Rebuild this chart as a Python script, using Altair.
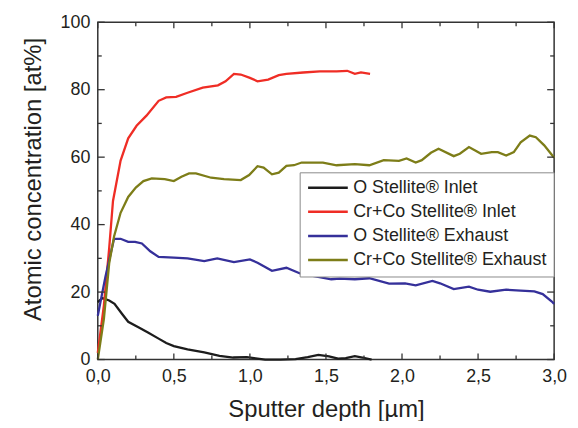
import altair as alt
import pandas as pd

# ---- data ----
series_names = ["O Stellite® Inlet", "Cr+Co Stellite® Inlet",
                "O Stellite® Exhaust", "Cr+Co Stellite® Exhaust"]
series_colors = ["#1c1c1c", "#ef2d25", "#35309a", "#7d7d18"]

o_inlet_x = [0, 0.03, 0.075, 0.11, 0.16, 0.2, 0.27, 0.33, 0.4, 0.45, 0.5, 0.59, 0.7, 0.8,
             0.89, 0.98, 1.05, 1.1, 1.2, 1.3, 1.38, 1.45, 1.52, 1.58, 1.63, 1.69, 1.74, 1.80]
o_inlet_y = [17, 18.2, 17.5, 16.5, 13.5, 11.2, 9.5, 8.0, 6.2, 4.9, 4.0, 3.0, 2.1, 1.1,
             0.6, 0.7, 0.3, 0.0, 0.0, 0.1, 0.7, 1.4, 0.9, 0.3, 0.4, 1.0, 0.6, 0.0]

crco_inlet_x = [0, 0.04, 0.075, 0.1, 0.15, 0.2, 0.255, 0.32, 0.4, 0.45, 0.515, 0.59, 0.69,
                0.79, 0.84, 0.895, 0.94, 1.0, 1.05, 1.12, 1.19, 1.24, 1.35, 1.46, 1.57, 1.64,
                1.69, 1.73, 1.79]
crco_inlet_y = [2, 16, 33, 47, 59, 65.6, 69.3, 72.3, 76.7, 77.7, 77.9, 79.1, 80.6,
                81.3, 82.5, 84.7, 84.5, 83.5, 82.5, 83, 84.3, 84.7, 85.1, 85.4, 85.4, 85.6,
                84.7, 85.1, 84.7]

o_exh_x = [0, 0.05, 0.107, 0.15, 0.2, 0.245, 0.29, 0.345, 0.4, 0.5, 0.59, 0.7, 0.785, 0.895,
           1.0, 1.05, 1.145, 1.24, 1.33, 1.44, 1.535, 1.59, 1.69, 1.785, 1.915, 2.02, 2.09,
           2.2, 2.25, 2.34, 2.44, 2.5, 2.58, 2.685, 2.78, 2.87, 2.925, 2.985, 3.0]
o_exh_y = [13, 24.5, 35.8, 35.8, 34.9, 34.9, 34.4, 32.1, 30.4, 30.2, 30, 29.2, 30, 28.9,
           29.7, 28.7, 26.3, 27.2, 25.5, 24.6, 23.8, 24, 23.8, 24.1, 22.5, 22.6, 22,
           23.3, 22.6, 20.9, 21.6, 20.7, 20.1, 20.7, 20.4, 20.2, 19.4, 17.2, 16.5]

crco_exh_x = [0, 0.04, 0.075, 0.107, 0.15, 0.2, 0.25, 0.3, 0.355, 0.44, 0.5, 0.55, 0.6, 0.645,
              0.745, 0.83, 0.94, 0.995, 1.05, 1.09, 1.145, 1.19, 1.24, 1.29, 1.34, 1.48, 1.57,
              1.69, 1.785, 1.88, 1.98, 2.03, 2.09, 2.13, 2.19, 2.24, 2.34, 2.38, 2.44, 2.52,
              2.59, 2.63, 2.685, 2.735, 2.78, 2.84, 2.88, 2.935, 3.0]
crco_exh_y = [0, 12, 28.5, 36.5, 43.5, 48.2, 51, 52.9, 53.7, 53.5, 52.9, 54.2, 55.2, 55.2,
              53.9, 53.5, 53.2, 54.7, 57.3, 56.9, 54.9, 55.4, 57.4, 57.6, 58.4, 58.4, 57.6,
              57.9, 57.6, 59.1, 58.9, 59.6, 58.4, 59.1, 61.3, 62.5, 60.3, 61, 63, 61,
              61.5, 61.5, 60.5, 61.5, 64.4, 66.4, 65.9, 63.5, 59.8]

x_major = [0, 0.5, 1.0, 1.5, 2.0, 2.5, 3.0]
x_minor = [0.25, 0.75, 1.25, 1.75, 2.25, 2.75]
y_major = [0, 20, 40, 60, 80, 100]
y_minor = [10, 30, 50, 70, 90]

# ---- build tables ----
rows = []
for name, xs, ys in zip(series_names,
                        [o_inlet_x, crco_inlet_x, o_exh_x, crco_exh_x],
                        [o_inlet_y, crco_inlet_y, o_exh_y, crco_exh_y]):
    for i, (a, b) in enumerate(zip(xs, ys)):
        rows.append({"depth": a, "conc": b, "series": name, "idx": i})
df = pd.DataFrame(rows)

W, H = 460, 340
FONT = "Liberation Sans"
TXT = "#231f20"
FRAME = "#333333"

xscale = alt.Scale(domain=[0, 3], nice=False, zero=False)
yscale = alt.Scale(domain=[0, 100], nice=False)

x_axis = alt.Axis(values=x_major, format=".1f",
                  labelExpr="replace(datum.label, '.', ',')",
                  tickSize=0, domain=False, grid=False, labelPadding=8,
                  labelFlush=False,
                  labelFontSize=18, labelFont=FONT, labelColor=TXT,
                  title="Sputter depth [µm]", titleFontSize=24,
                  titleFont=FONT, titleColor=TXT, titleFontWeight="normal",
                  titleY=50, titleBaseline="middle")
y_axis = alt.Axis(values=y_major, format="d",
                  tickSize=0, domain=False, grid=False, labelPadding=8,
                  labelFlush=False,
                  labelFontSize=18, labelFont=FONT, labelColor=TXT,
                  title="Atomic concentration [at%]", titleFontSize=24,
                  titleFont=FONT, titleColor=TXT, titleFontWeight="normal",
                  titleX=-65, titleY=158, titleAngle=-90,
                  titleBaseline="middle", titleAlign="center")

lines = alt.Chart(df).mark_line(strokeWidth=2.3).encode(
    x=alt.X("depth:Q", scale=xscale, axis=x_axis),
    y=alt.Y("conc:Q", scale=yscale, axis=y_axis),
    color=alt.Color("series:N",
                    scale=alt.Scale(domain=series_names, range=series_colors),
                    legend=alt.Legend(orient="none", legendX=203.5, legendY=151.3,
                                      title=None, symbolType="stroke", symbolSize=1600,
                                      symbolStrokeWidth=2.5, clipHeight=17,
                                      rowPadding=5.3, labelFontSize=18, labelFont=FONT,
                                      labelColor=TXT, labelOffset=4, labelLimit=400,
                                      padding=7, strokeColor="#8a8a8a",
                                      fillColor="white")),
    order="idx:Q",
)

def xticks(vals, length):
    d = pd.DataFrame({"depth": vals})
    bottom = alt.Chart(d).mark_rule(color=FRAME, strokeWidth=1.3).encode(
        x=alt.X("depth:Q", scale=xscale, axis=x_axis),
        y=alt.value(H), y2=alt.value(H - length))
    top = alt.Chart(d).mark_rule(color=FRAME, strokeWidth=1.3).encode(
        x=alt.X("depth:Q", scale=xscale, axis=x_axis),
        y=alt.value(0), y2=alt.value(length))
    return [bottom, top]

def yticks(vals, length):
    d = pd.DataFrame({"conc": vals})
    left = alt.Chart(d).mark_rule(color=FRAME, strokeWidth=1.3).encode(
        y=alt.Y("conc:Q", scale=yscale, axis=y_axis),
        x=alt.value(0), x2=alt.value(length))
    right = alt.Chart(d).mark_rule(color=FRAME, strokeWidth=1.3).encode(
        y=alt.Y("conc:Q", scale=yscale, axis=y_axis),
        x=alt.value(W), x2=alt.value(W - length))
    return [left, right]

tick_layers = xticks(x_major, 6) + xticks(x_minor, 4) + yticks(y_major, 7) + yticks(y_minor, 4)

chart = alt.layer(lines, *tick_layers).properties(
    width=W, height=H,
    autosize="none",
    padding={"left": 90.5, "top": 12.7, "right": 16, "bottom": 60},
    background="white",
).configure_view(stroke=FRAME, strokeWidth=1.5)

chart.save("out.html", embed_options={"renderer": "svg", "actions": False})
